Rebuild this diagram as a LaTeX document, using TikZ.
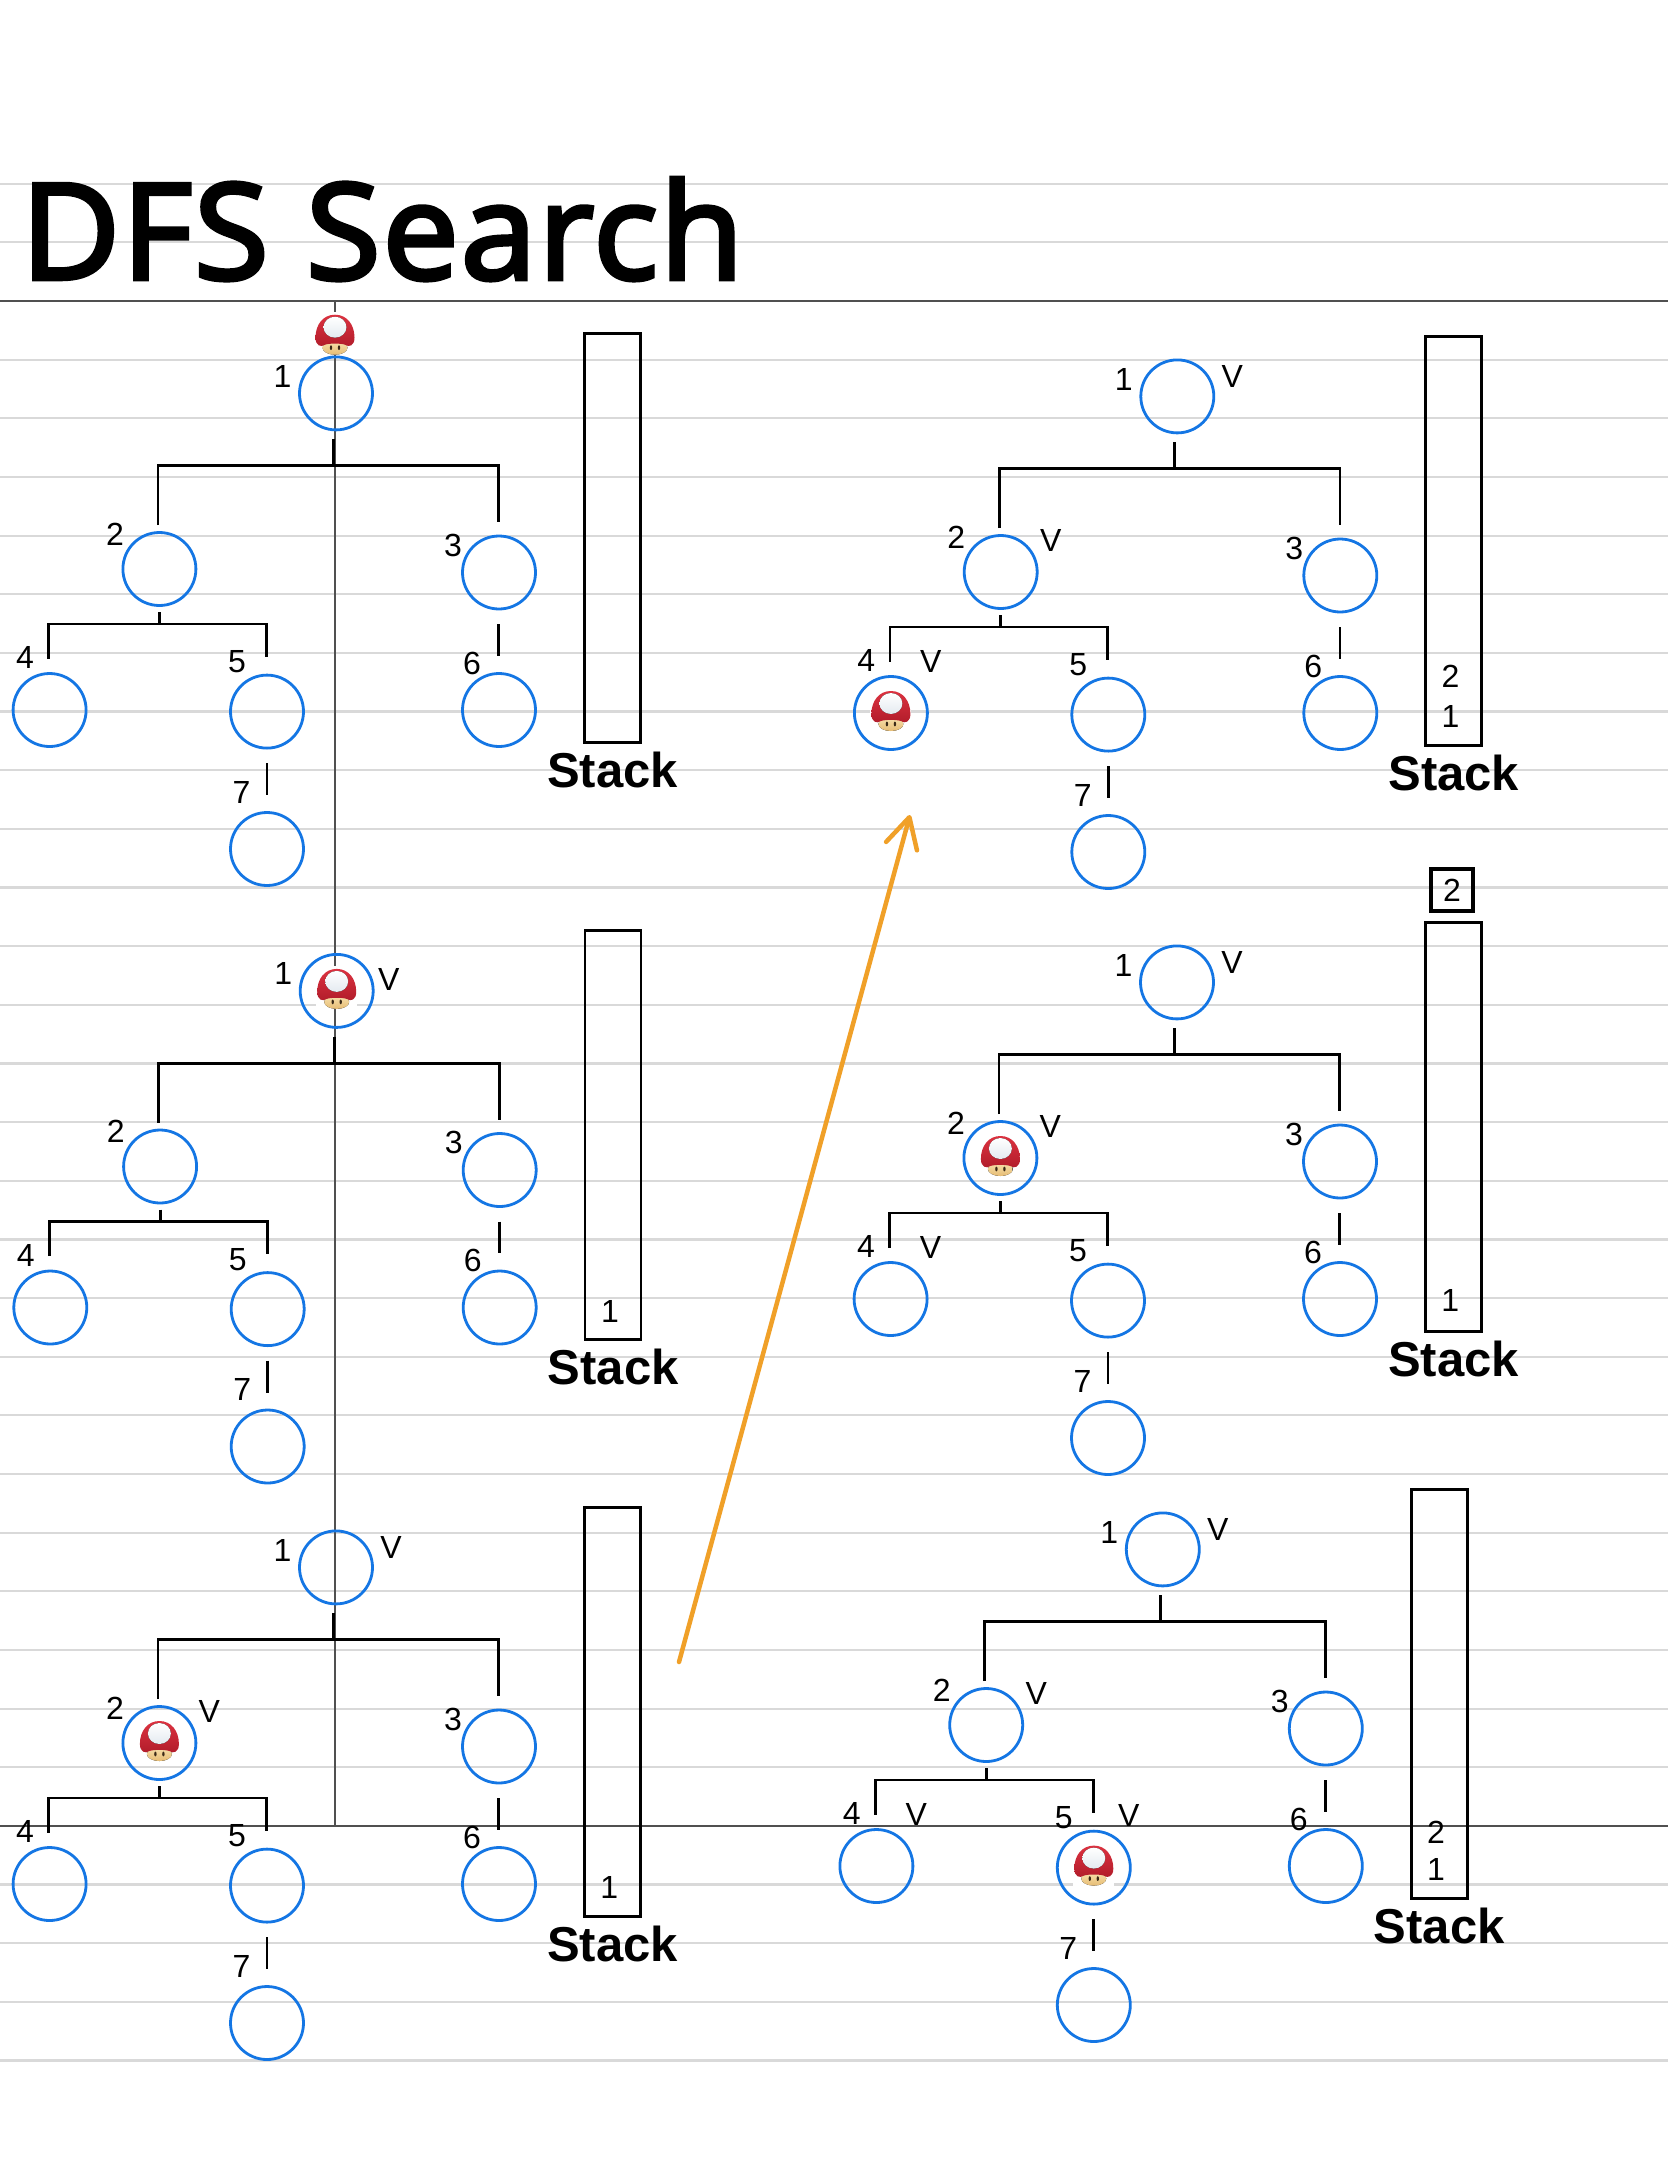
\documentclass[tikz,border=0pt]{standalone}
\usepackage{fontspec}
\setmainfont{Liberation Sans}
\newfontfamily\titlefont[FakeBold=3.4,LetterSpace=1.6]{Open Sans}
\usetikzlibrary{arrows.meta,calc}
\definecolor{rule}{HTML}{D9D9D9}
\definecolor{darkrule}{HTML}{505050}
\definecolor{nodeblue}{HTML}{1476E4}
\definecolor{arroworange}{HTML}{F0A028}
\definecolor{capred}{HTML}{DC3240}
\definecolor{capdark}{HTML}{B01C2A}
\definecolor{spotwhite}{HTML}{E4EAF0}
\definecolor{facelight}{HTML}{F8E2AE}
\definecolor{facedark}{HTML}{E6BC74}
\definecolor{eyecol}{HTML}{3A2A18}
\tikzset{
  x=1pt,y=-1pt,
  ruleline/.style={draw=rule,line width=2.2pt},
  darkline/.style={draw=darkrule,line width=2pt},
  vert/.style={circle,draw=nodeblue,line width=2.8pt,minimum size=73pt,inner sep=0pt},
  conn/.style={draw=black,line width=2.8pt,line join=miter},
  lbl/.style={inner sep=0pt,font=\fontsize{32}{32}\selectfont},
  stackbox/.style={rectangle,draw=black,line width=2.8pt,minimum width=56pt,minimum height=409pt,inner sep=0pt},
  stacklbl/.style={inner sep=0pt,font=\fontsize{49}{49}\selectfont\bfseries},
  popbox/.style={rectangle,draw=black,line width=4.5pt,minimum width=42pt,minimum height=42pt,inner sep=0pt,font=\fontsize{32}{32}\selectfont},
  orange/.style={draw=arroworange,line width=4.5pt,line cap=round},
}
% mushroom token
\newcommand{\mushroom}[1]{%
  \begin{scope}[shift={(#1)}]
    \fill[white] (-20.5,-21) rectangle (20.5,22);
    \fill[top color=facelight,bottom color=facedark] (0,15) ellipse [x radius=12.5,y radius=7];
    \path[top color=capred,bottom color=capdark]
      (-19.5,5) .. controls (-19.5,-8) and (-12,-18) .. (0,-18)
      .. controls (12,-18) and (19.5,-8) .. (19.5,5)
      .. controls (19.5,13) and (14,15) .. (10,12)
      .. controls (6,10.5) and (-6,10.5) .. (-10,12)
      .. controls (-14,15) and (-19.5,13) .. (-19.5,5) -- cycle;
    \fill[top color=white,bottom color=spotwhite] (0,-5.5) ellipse [x radius=11.5,y radius=10.5];
    \fill[eyecol] (-4,15) ellipse [x radius=1.2,y radius=2.4];
    \fill[eyecol] (4,15) ellipse [x radius=1.2,y radius=2.4];
  \end{scope}}
% one copy of the tree with its stack
\newcommand{\treecopy}[3]{%
  \begin{scope}[shift={(#2,#3)}]
    \node[vert] (#1n1) at (336,393.4) {};
    \node[vert] (#1n2) at (159.4,569) {};
    \node[vert] (#1n3) at (499,572.5) {};
    \node[vert] (#1n4) at (49.6,710) {};
    \node[vert] (#1n5) at (267,711.6) {};
    \node[vert] (#1n6) at (499,710) {};
    \node[vert] (#1n7) at (267,849) {};
    \node[lbl] (#1l1) at (282.5,376) {1};
    \node[lbl] (#1l2) at (115,534) {2};
    \node[lbl] (#1l3) at (453,545) {3};
    \node[lbl] (#1l4) at (25,657.5) {4};
    \node[lbl] (#1l5) at (237,662) {5};
    \node[lbl] (#1l6) at (472,663) {6};
    \node[lbl] (#1l7) at (241.5,792) {7};
    \coordinate (#1a) at (333.5,439);
    \coordinate (#1b) at (333.5,465.8);
    \coordinate (#1c) at (158,525);
    \coordinate (#1d) at (498.7,522);
    \coordinate (#1e) at (159.4,612);
    \coordinate (#1f) at (159.4,624);
    \coordinate (#1g) at (48.7,658.6);
    \coordinate (#1h) at (266.5,656.7);
    \coordinate (#1i) at (498.7,624);
    \coordinate (#1j) at (498.7,655.5);
    \coordinate (#1k) at (267,763);
    \coordinate (#1m) at (267,795);
    \draw[conn] (#1a) -- (#1b);
    \draw[conn] (#1c) |- (#1b) -| (#1d);
    \draw[conn] (#1e) -- (#1f);
    \draw[conn] (#1g) |- (#1f) -| (#1h);
    \draw[conn] (#1i) -- (#1j);
    \draw[conn] (#1k) -- (#1m);
    \node[stackbox] (#1st) at (612.3,537.7) {};
    \node[stacklbl] (#1sl) at (612.5,769.5) {Stack};
  \end{scope}}
\newcommand{\vmark}[4]{\node[lbl] (#1v#2) at ($(#1n#2)+(#3,#4)$) {V};}
\newcommand{\stackitem}[3]{\node[lbl] (#1s#2) at ($(#1st.south)+(-3,-#3)$) {#2};}
\begin{document}
\begin{tikzpicture}
\useasboundingbox (0,0) rectangle (1668,2157);
\fill[white] (0,0) rectangle (1668,2157);
% ruled paper
\foreach \k in {-2,...,30}{\draw[ruleline] (0,301+\k*58.65) -- (1668,301+\k*58.65);}
\coordinate (topL) at (0,301);
\coordinate (topR) at (1668,301);
\coordinate (lowL) at (0,1826);
\coordinate (lowR) at (1668,1826);
\coordinate (vtop) at (334.5,301);
\coordinate (vbot) at (334.5,1826);
\draw[darkline] (topL) -- (topR);
\draw[darkline] (lowL) -- (lowR);
\draw[darkline] (vtop) -- (vbot);
% title
\node[anchor=base west,inner sep=0pt] (title) at (21,279) {\resizebox{722pt}{101pt}{\titlefont DFS Search}};
% trees
\treecopy{A}{0}{0}
\treecopy{B}{0.7}{597.5}
\treecopy{C}{0}{1174}
\treecopy{D}{841.3}{3}
\treecopy{E}{841}{589}
\treecopy{F}{826.8}{1156}
% visited marks
\vmark{B}{1}{52}{-11}
\vmark{C}{1}{55}{-20}
\vmark{C}{2}{50}{-32}
\vmark{D}{1}{55}{-20}
\vmark{D}{2}{50}{-32}
\vmark{D}{4}{40}{-52}
\vmark{E}{1}{55}{-20}
\vmark{E}{2}{50}{-32}
\vmark{E}{4}{40}{-52}
\vmark{F}{1}{55}{-20}
\vmark{F}{2}{50}{-32}
\vmark{F}{4}{40}{-52}
\vmark{F}{5}{35}{-52}
% stack contents
\stackitem{B}{1}{30}
\stackitem{C}{1}{30}
\stackitem{D}{2}{70}
\stackitem{D}{1}{30}
\stackitem{E}{1}{32}
\stackitem{F}{2}{67}
\stackitem{F}{1}{30}
\node[popbox] (pop) at (1452,890) {2};
% mushrooms
\mushroom{335,332.7}
\mushroom{$(Bn1)+(0,-4)$}
\mushroom{$(Cn2)+(0,-4)$}
\mushroom{$(Dn4)+(0,-4)$}
\mushroom{$(En2)+(0,-4)$}
\mushroom{$(Fn5)+(0,-4)$}
% move arrow
\coordinate (arrowstart) at (679,1662);
\coordinate (arrowtip) at (910,815);
\draw[orange,-{Straight Barb[length=30pt,width=32pt,round]}] (arrowstart) -- (arrowtip);
\end{tikzpicture}
\end{document}
